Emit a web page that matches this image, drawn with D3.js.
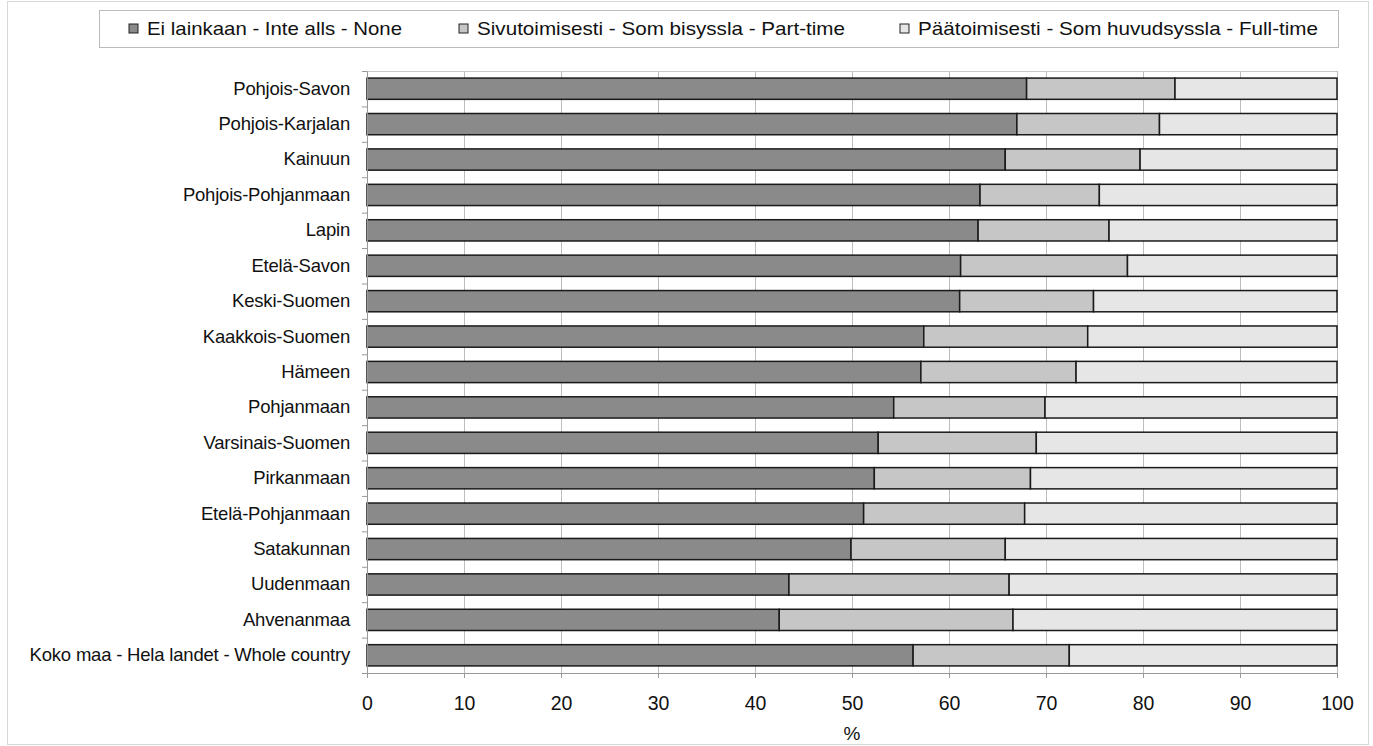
<!DOCTYPE html>
<html><head><meta charset="utf-8">
<script src="https://cdn.jsdelivr.net/npm/d3@7"></script>
<style>body{margin:0;background:#fff;}svg{display:block;font-family:"Liberation Sans",Arial,sans-serif;}</style>
</head><body>
<svg id="c" width="1373" height="746"></svg>
<script>
const categories = ["Pohjois-Savon","Pohjois-Karjalan","Kainuun","Pohjois-Pohjanmaan","Lapin","Etelä-Savon","Keski-Suomen","Kaakkois-Suomen","Hämeen","Pohjanmaan","Varsinais-Suomen","Pirkanmaan","Etelä-Pohjanmaan","Satakunnan","Uudenmaan","Ahvenanmaa","Koko maa - Hela landet - Whole country"];
const none     = [68.0,67.0,65.8,63.2,63.0,61.2,61.1,57.4,57.1,54.3,52.7,52.3,51.2,49.9,43.5,42.5,56.3];
const partTime = [15.3,14.7,13.9,12.3,13.5,17.2,13.8,16.9,16.0,15.6,16.3,16.1,16.6,15.9,22.7,24.1,16.1];
const fullTime = none.map((v,i)=>+(100-v-partTime[i]).toFixed(1));
const seriesNames = ["Ei lainkaan - Inte alls - None","Sivutoimisesti - Som bisyssla - Part-time","Päätoimisesti - Som huvudsyssla - Full-time"];
const xTicks = [0,10,20,30,40,50,60,70,80,90,100];
const xTitle = "%";
const colors = ["#8a8a8a","#c6c6c6","#e6e6e6"];

const svg = d3.select("#c");
svg.append("rect").attr("x",7.5).attr("y",1.5).attr("width",1361).attr("height",743).attr("fill","#fff").attr("stroke","#d8d8d8");

const m={l:367,r:1337,t:71,b:673};
const x=d3.scaleLinear().domain([0,100]).range([m.l,m.r]);
const y=d3.scaleBand().domain(categories).range([m.t,m.b]).paddingInner(0.4).paddingOuter(0.2);

// gridlines
svg.append("g").selectAll("line").data(xTicks).join("line")
 .attr("x1",d=>x(d)+0.5).attr("x2",d=>x(d)+0.5).attr("y1",m.t).attr("y2",m.b)
 .attr("stroke","#bdbdbd").attr("stroke-width",1);
svg.append("line").attr("x1",m.l).attr("x2",m.r).attr("y1",m.t+0.5).attr("y2",m.t+0.5).attr("stroke","#c8c8c8");

// stacked data
const rows = categories.map((c,i)=>({cat:c, none:none[i], part:partTime[i], full:fullTime[i]}));
const stack = d3.stack().keys(["none","part","full"])(rows);
stack.forEach((s,k)=>{
  svg.append("g").selectAll("rect").data(s).join("rect")
   .attr("x",d=>x(d[0])).attr("width",d=>x(Math.min(d[1],100))-x(d[0]))
   .attr("y",d=>y(d.data.cat)).attr("height",y.bandwidth())
   .attr("fill",colors[k]).attr("stroke","#1a1a1a").attr("stroke-width",1.5);
});

// axes
const xa=svg.append("g").attr("transform",`translate(0,${m.b})`)
 .call(d3.axisBottom(x).tickValues(xTicks).tickSize(5).tickPadding(18));
xa.select(".domain").attr("stroke","#999");
xa.selectAll(".tick line").attr("stroke","#999");
xa.selectAll("text").attr("font-size",19.5).attr("fill","#111").attr("font-family","Liberation Sans, Arial, sans-serif");

const ya=svg.append("g").attr("transform",`translate(${m.l},0)`)
 .call(d3.axisLeft(y).tickSize(0).tickPadding(17));
ya.select(".domain").attr("stroke","#999");
ya.selectAll("text").attr("font-size",18.5).attr("fill","#111").attr("font-family","Liberation Sans, Arial, sans-serif").attr("letter-spacing","-0.2");
const step=y.step();
const sepY=d3.range(categories.length+1).map(i=>m.t+i*step);
svg.append("g").selectAll("line").data(sepY).join("line")
 .attr("x1",m.l-5).attr("x2",m.l).attr("y1",d=>d+0.5).attr("y2",d=>d+0.5).attr("stroke","#999");

svg.append("text").attr("x",(m.l+m.r)/2).attr("y",740).attr("text-anchor","middle")
 .attr("font-size",19).attr("fill","#111").text(xTitle);

// legend
const lg=svg.append("g");
lg.append("rect").attr("x",99.5).attr("y",10.5).attr("width",1239).attr("height",37).attr("fill","#fff").attr("stroke","#bbb");
const lx=[129,459,900];
const lw=[255,368,400];
seriesNames.forEach((n,i)=>{
  lg.append("rect").attr("x",lx[i]).attr("y",24).attr("width",9).attr("height",9).attr("fill",colors[i]).attr("stroke","#222").attr("stroke-width",1);
  lg.append("text").attr("x",lx[i]+18).attr("y",35).attr("font-size",19).attr("fill","#111")
    .attr("textLength",lw[i]).attr("lengthAdjust","spacingAndGlyphs").text(n);
});
</script>
</body></html>
